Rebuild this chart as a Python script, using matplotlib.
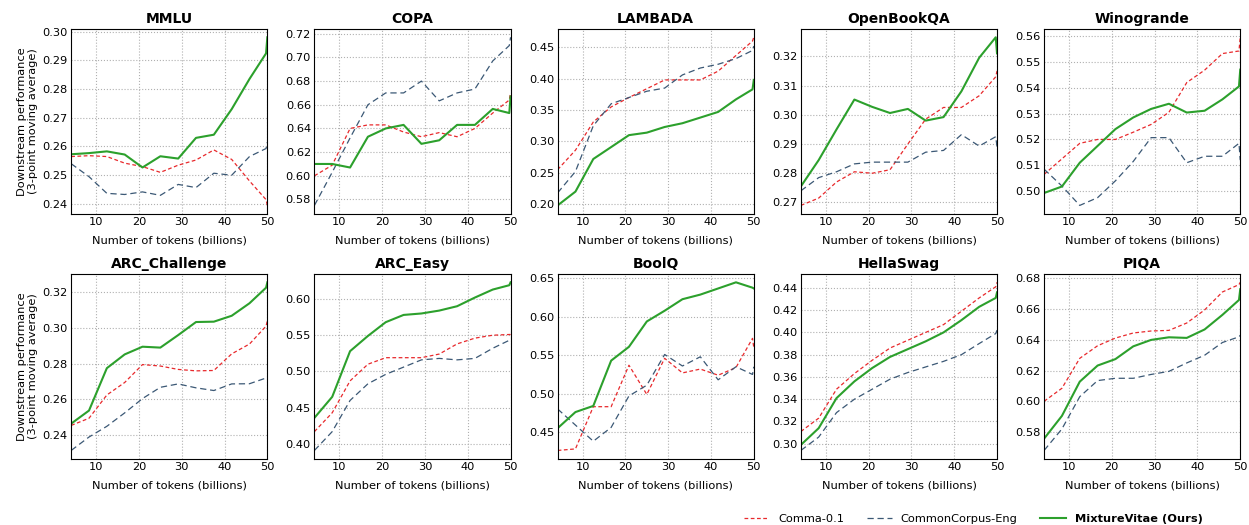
import matplotlib
matplotlib.use("Agg")
import matplotlib.pyplot as plt
from matplotlib.ticker import MultipleLocator

# checkpoints (billions of tokens), last two are the tail of the moving average
tokens = [4.17, 8.33, 12.5, 16.67, 20.83, 25.0, 29.17, 33.33, 37.5, 41.67, 45.83, 49.7, 50.0]

tasks = ['MMLU', 'COPA', 'LAMBADA', 'OpenBookQA', 'Winogrande',
         'ARC_Challenge', 'ARC_Easy', 'BoolQ', 'HellaSwag', 'PIQA']

# y tick spacing per task
y_steps = [0.01, 0.02, 0.05, 0.01, 0.01, 0.02, 0.05, 0.05, 0.02, 0.02]

comma = {
    'MMLU': [0.2565, 0.2568, 0.2565, 0.2542, 0.2530, 0.2510, 0.2535, 0.2553, 0.2588, 0.2555, 0.2480, 0.2415, 0.2395],
    'COPA': [0.600, 0.609, 0.640, 0.643, 0.643, 0.637, 0.633, 0.6365, 0.633, 0.640, 0.653, 0.664, 0.670],
    'LAMBADA': [0.255, 0.286, 0.331, 0.355, 0.370, 0.384, 0.398, 0.398, 0.398, 0.412, 0.437, 0.460, 0.466],
    'OpenBookQA': [0.269, 0.2715, 0.2770, 0.2805, 0.2800, 0.2812, 0.2900, 0.2985, 0.3025, 0.3025, 0.3065, 0.3130, 0.3150],
    'Winogrande': [0.5065, 0.5125, 0.5185, 0.5200, 0.5200, 0.5228, 0.5258, 0.5305, 0.5420, 0.5468, 0.5532, 0.5542, 0.5595],
    'ARC_Challenge': [0.2455, 0.2495, 0.2625, 0.2695, 0.2795, 0.2787, 0.2768, 0.2760, 0.2762, 0.2855, 0.2910, 0.3010, 0.3040],
    'ARC_Easy': [0.417, 0.443, 0.487, 0.510, 0.519, 0.519, 0.519, 0.524, 0.538, 0.546, 0.550, 0.551, 0.551],
    'BoolQ': [0.426, 0.428, 0.483, 0.483, 0.537, 0.499, 0.546, 0.527, 0.532, 0.524, 0.534, 0.572, 0.560],
    'HellaSwag': [0.311, 0.323, 0.349, 0.363, 0.375, 0.386, 0.393, 0.400, 0.407, 0.419, 0.431, 0.441, 0.445],
    'PIQA': [0.600, 0.6085, 0.6280, 0.6362, 0.6412, 0.6445, 0.6458, 0.6462, 0.6510, 0.6595, 0.6712, 0.6760, 0.6775],
}

common_corpus = {
    'MMLU': [0.2540, 0.2495, 0.2437, 0.2433, 0.2442, 0.2430, 0.2468, 0.2457, 0.2507, 0.2500, 0.2565, 0.2593, 0.2615],
    'COPA': [0.575, 0.603, 0.632, 0.660, 0.670, 0.670, 0.680, 0.6633, 0.670, 0.6733, 0.697, 0.710, 0.717],
    'LAMBADA': [0.218, 0.252, 0.325, 0.360, 0.370, 0.380, 0.385, 0.406, 0.417, 0.423, 0.432, 0.445, 0.452],
    'OpenBookQA': [0.274, 0.2785, 0.2805, 0.2832, 0.2838, 0.2838, 0.2838, 0.2872, 0.2878, 0.2932, 0.2893, 0.2925, 0.2890],
    'Winogrande': [0.5085, 0.5020, 0.4945, 0.4975, 0.5040, 0.5115, 0.5207, 0.5207, 0.5110, 0.5135, 0.5135, 0.5185, 0.5120],
    'ARC_Challenge': [0.2315, 0.2390, 0.2450, 0.2525, 0.2605, 0.2668, 0.2687, 0.2665, 0.2650, 0.2687, 0.2688, 0.2720, 0.2725],
    'ARC_Easy': [0.391, 0.417, 0.460, 0.483, 0.496, 0.506, 0.516, 0.518, 0.516, 0.518, 0.532, 0.543, 0.546],
    'BoolQ': [0.480, 0.459, 0.438, 0.456, 0.497, 0.511, 0.551, 0.536, 0.548, 0.518, 0.535, 0.525, 0.535],
    'HellaSwag': [0.294, 0.306, 0.328, 0.340, 0.349, 0.358, 0.364, 0.369, 0.374, 0.380, 0.390, 0.399, 0.402],
    'PIQA': [0.568, 0.582, 0.603, 0.6135, 0.6150, 0.6150, 0.6175, 0.6195, 0.6250, 0.6300, 0.6383, 0.6420, 0.6430],
}

mixture_vitae = {
    'MMLU': [0.2573, 0.2577, 0.2583, 0.2572, 0.2527, 0.2566, 0.2558, 0.2630, 0.2641, 0.2730, 0.2835, 0.2924, 0.2980],
    'COPA': [0.610, 0.610, 0.607, 0.633, 0.640, 0.643, 0.627, 0.630, 0.643, 0.643, 0.6565, 0.653, 0.667],
    'LAMBADA': [0.198, 0.220, 0.272, 0.291, 0.310, 0.314, 0.323, 0.329, 0.338, 0.347, 0.367, 0.383, 0.398],
    'OpenBookQA': [0.2755, 0.2845, 0.2950, 0.3052, 0.3027, 0.3006, 0.3020, 0.2980, 0.2992, 0.3080, 0.3195, 0.3265, 0.3210],
    'Winogrande': [0.4993, 0.5018, 0.5110, 0.5175, 0.5240, 0.5285, 0.5318, 0.5338, 0.5304, 0.5311, 0.5355, 0.5405, 0.5470],
    'ARC_Challenge': [0.2465, 0.2538, 0.2775, 0.2852, 0.2895, 0.2890, 0.2960, 0.3033, 0.3035, 0.3068, 0.3138, 0.3225, 0.3255],
    'ARC_Easy': [0.436, 0.465, 0.528, 0.549, 0.568, 0.578, 0.580, 0.584, 0.590, 0.602, 0.613, 0.619, 0.623],
    'BoolQ': [0.455, 0.476, 0.484, 0.543, 0.561, 0.594, 0.608, 0.623, 0.629, 0.637, 0.645, 0.638, 0.637],
    'HellaSwag': [0.299, 0.314, 0.341, 0.356, 0.368, 0.378, 0.385, 0.392, 0.400, 0.411, 0.423, 0.431, 0.436],
    'PIQA': [0.5757, 0.5905, 0.6128, 0.6233, 0.6275, 0.6358, 0.6400, 0.6417, 0.6413, 0.6468, 0.6563, 0.6660, 0.6730],
}

plt.rcParams['font.family'] = ['DejaVu Sans']
plt.rcParams['font.size'] = 8.2

fig, axes = plt.subplots(2, 5, figsize=(12.49, 5.25), dpi=100)
fig.subplots_adjust(left=0.057, right=0.993, top=0.945, bottom=0.126, wspace=0.24, hspace=0.325)

for idx, task in enumerate(tasks):
    ax = axes[idx // 5][idx % 5]
    ax.plot(tokens, comma[task], color='#e8292c', lw=0.9, ls=(0, (3, 2)), label='Comma-0.1')
    ax.plot(tokens, common_corpus[task], color='#3b5875', lw=0.9, ls=(0, (5, 3)), label='CommonCorpus-Eng')
    ax.plot(tokens, mixture_vitae[task], color='#2ca02c', lw=1.5, label='MixtureVitae (Ours)')
    ax.set_title(task, fontsize=10, fontweight='bold', pad=4)
    ax.set_xlabel('Number of tokens (billions)', fontsize=8.2, labelpad=6)
    ax.set_xlim(tokens[0], tokens[-1])
    ax.set_xticks([10, 20, 30, 40, 50])
    ax.yaxis.set_major_locator(MultipleLocator(y_steps[idx]))
    ax.grid(True, ls=':', color='#b0b0b0', lw=0.8)
    ax.tick_params(labelsize=8.2, length=0, pad=2.5)
    if idx % 5 == 0:
        ax.set_ylabel('Downstream performance\n(3-point moving average)', fontsize=8.2, labelpad=3)

handles, labels = axes[0][0].get_legend_handles_labels()
leg = fig.legend(handles, labels, loc='lower right', bbox_to_anchor=(0.971, -0.017),
                 ncol=3, frameon=False, fontsize=8.2, handlelength=2.2, columnspacing=2.0)
leg.get_texts()[2].set_fontweight('bold')

plt.savefig('out.png', dpi=100)
